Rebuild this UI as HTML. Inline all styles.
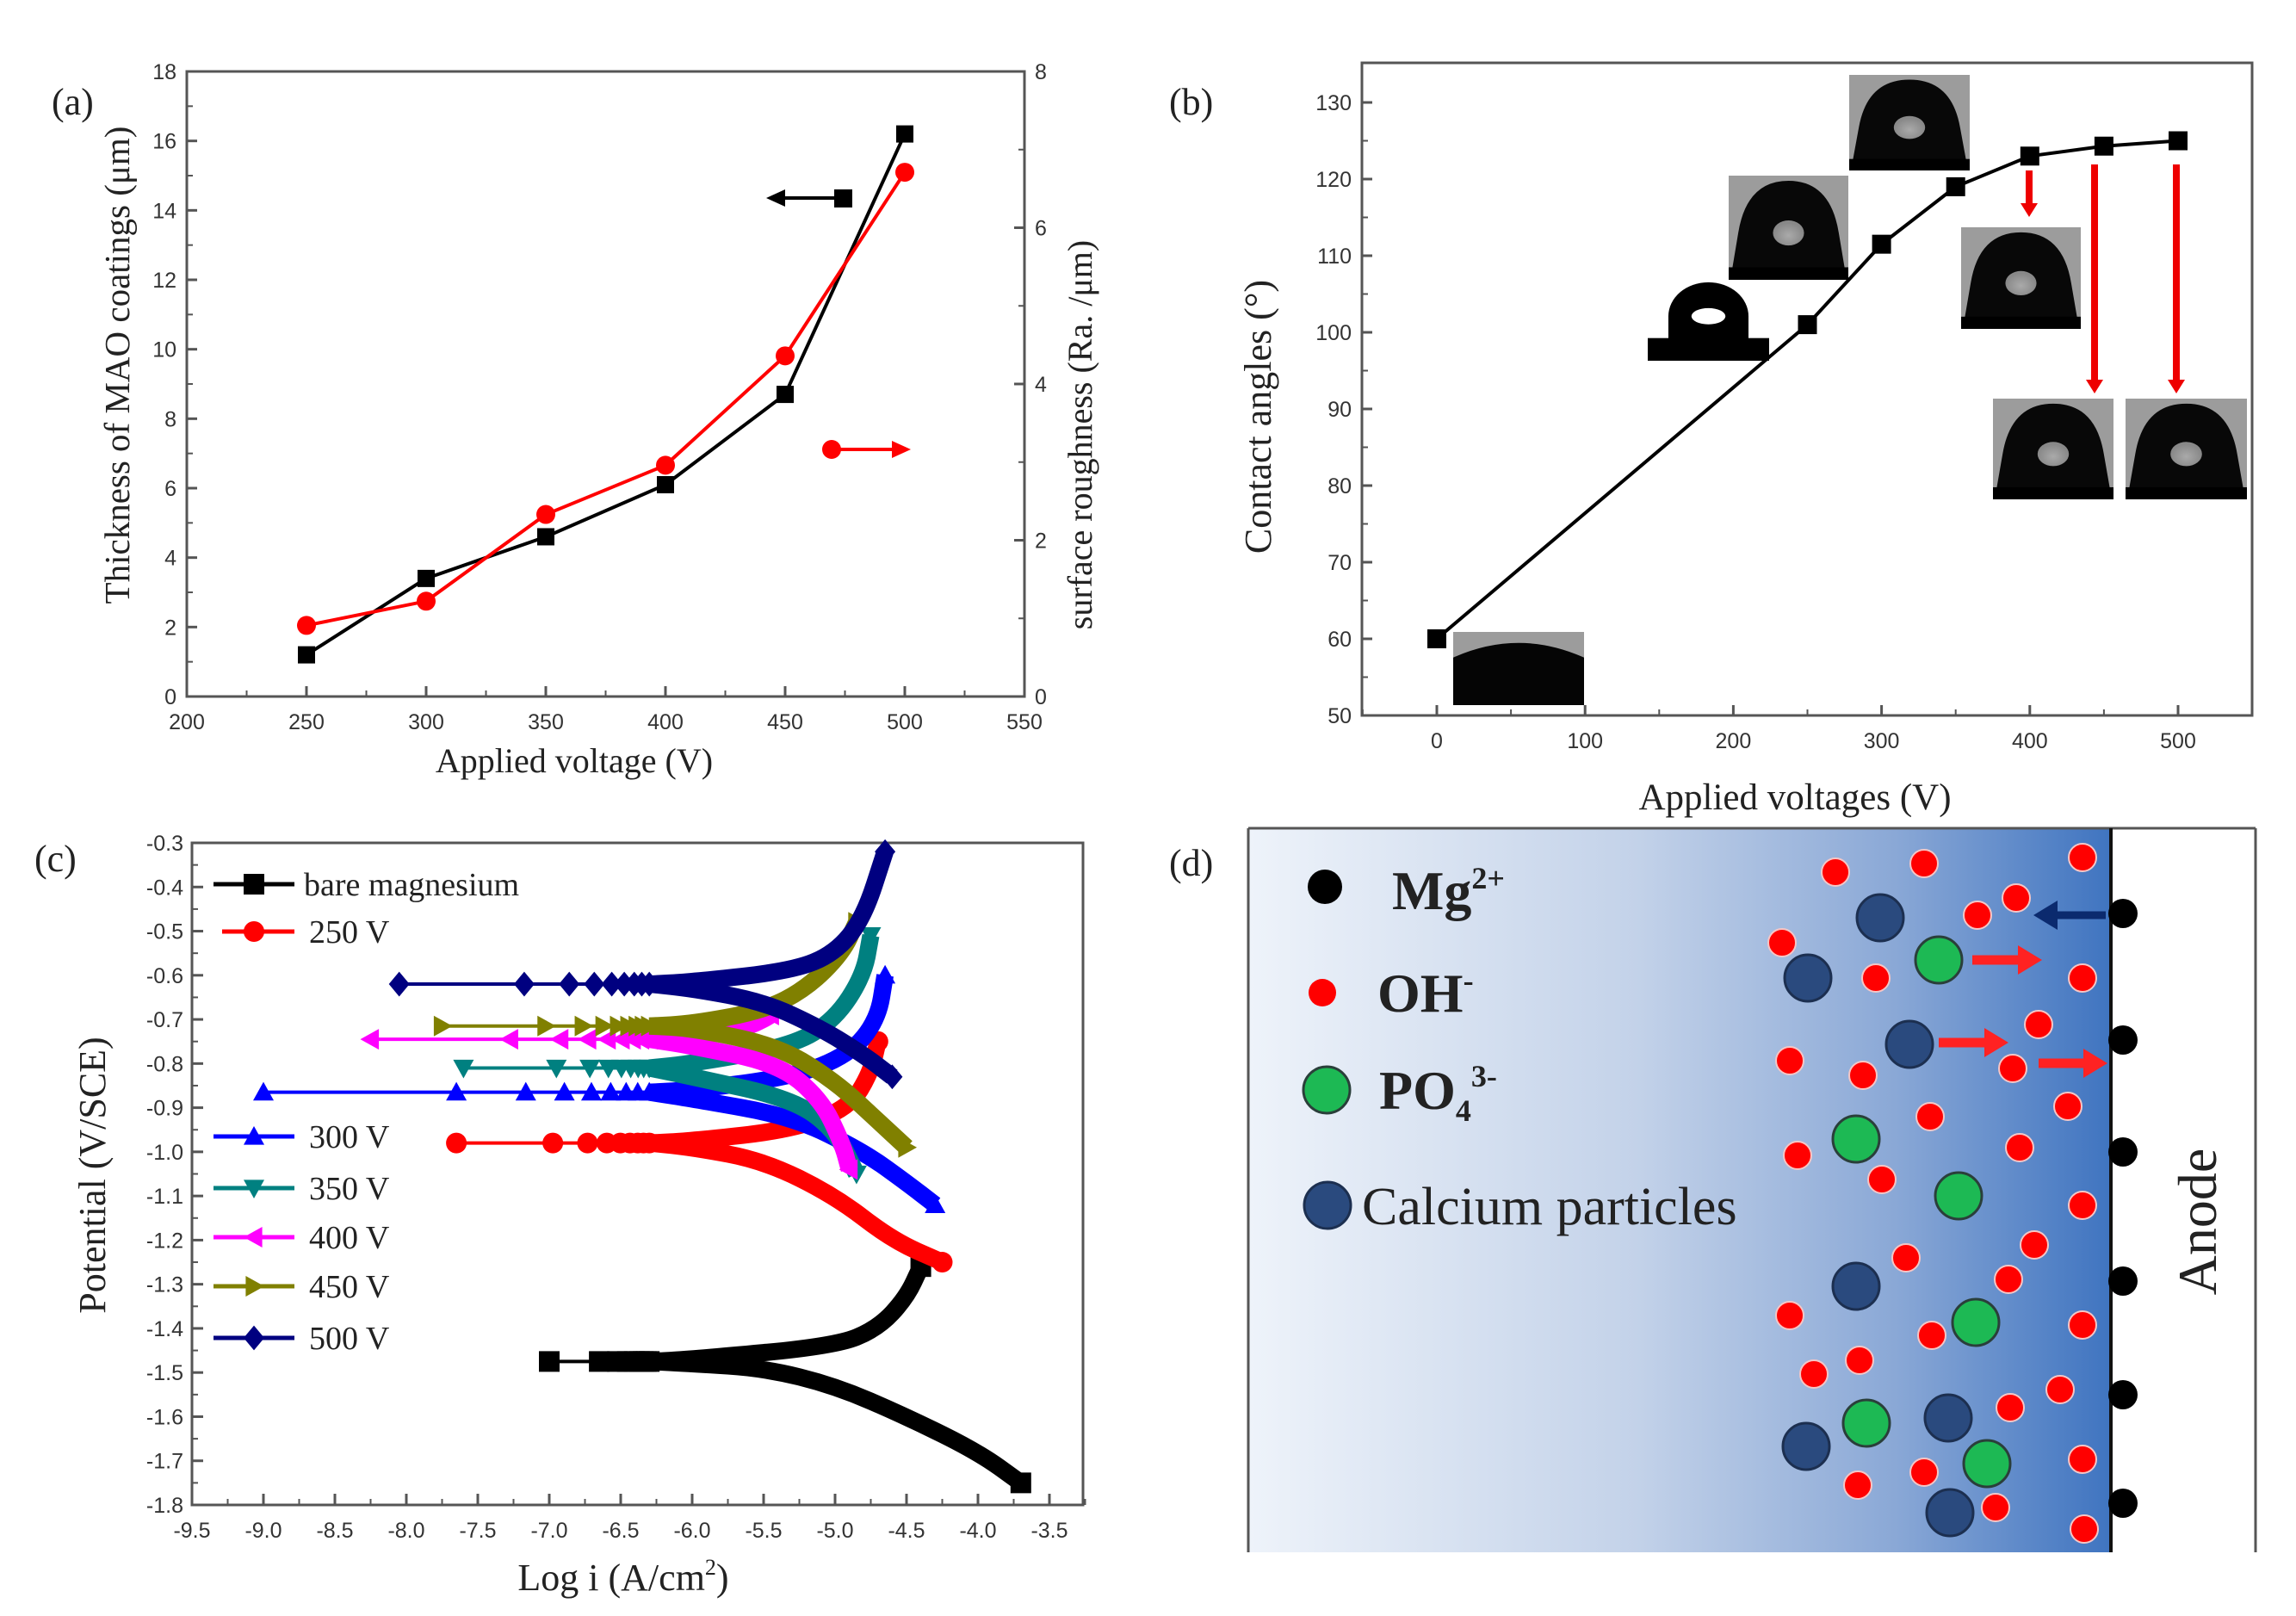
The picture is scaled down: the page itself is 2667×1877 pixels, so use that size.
<!DOCTYPE html>
<html><head><meta charset="utf-8"><style>
html,body{margin:0;padding:0;background:#fff}
svg{display:block}
.tk{font-family:"Liberation Sans",Arial,sans-serif;font-size:25px;fill:#333}
.tt{font-family:"Liberation Serif","Times New Roman",serif;fill:#222}
</style></head><body>
<svg id="fig" width="2667" height="1877" viewBox="0 0 2667 1877" xmlns="http://www.w3.org/2000/svg">
<defs>
<linearGradient id="sol" x1="0" y1="0" x2="1" y2="0">
<stop offset="0" stop-color="#eef3fa"/><stop offset="0.45" stop-color="#c3d2e9"/><stop offset="0.75" stop-color="#8aa8d6"/><stop offset="1" stop-color="#3f74c0"/>
</linearGradient>
<radialGradient id="drop" cx="0.5" cy="0.6" r="0.5"><stop offset="0" stop-color="#aaa"/><stop offset="1" stop-color="#888"/></radialGradient>
</defs>
<g id="pa"></g>
<g id="pb"></g>
<g id="pc"></g>
<g id="pd"></g>
</svg>
<script>
// ---- Panel (a) data ----
const aVoltage=[250,300,350,400,450,500];
const aThickness=[1.2,3.4,4.6,6.1,8.7,16.2];
const aRoughness=[0.91,1.22,2.33,2.96,4.36,6.71];
const aXTicks=[200,250,300,350,400,450,500,550];
const aYTicks=[0,2,4,6,8,10,12,14,16,18];
const aY2Ticks=[0,2,4,6,8];
// ---- Panel (b) data ----
const bVoltage=[0,250,300,350,400,450,500];
const bAngle=[60,101,111.5,119,123,124.3,125];
const bXTicks=[0,100,200,300,400,500];
const bYTicks=[50,60,70,80,90,100,110,120,130];
// ---- Panel (c) data ----
const cNames=["bare magnesium","250 V","300 V","350 V","400 V","450 V","500 V"];
const cEcorr=[-1.475,-0.98,-0.865,-0.81,-0.745,-0.715,-0.62];
const cStart=[-7.0,-7.65,-9.0,-7.6,-8.25,-7.75,-8.05];
const cAnodicX=[[-6,-5,-4.7,-4.5,-4.4],[-6,-5.3,-4.9,-4.75,-4.7],[-6,-5.3,-4.9,-4.7,-4.65],[-6,-5.3,-5.0,-4.8,-4.75],[-6,-5.8,-5.6,-5.5,-5.45],[-6,-5.5,-5.2,-4.95,-4.85],[-6,-5.3,-5.0,-4.8,-4.65]];
const cAnodicE=[[-1.47,-1.44,-1.40,-1.33,-1.26],[-0.975,-0.95,-0.90,-0.82,-0.75],[-0.86,-0.83,-0.78,-0.70,-0.60],[-0.80,-0.76,-0.70,-0.60,-0.51],[-0.74,-0.73,-0.715,-0.70,-0.69],[-0.71,-0.68,-0.63,-0.55,-0.48],[-0.615,-0.59,-0.55,-0.47,-0.32]];
const cCathX=[[-6,-5.5,-5,-4.5,-4,-3.7],[-6,-5.5,-5,-4.6,-4.25],[-6,-5.3,-4.8,-4.5,-4.3],[-6,-5.3,-5.0,-4.85],[-6,-5.4,-5.1,-4.95,-4.9],[-6,-5.4,-5.0,-4.7,-4.5],[-6,-5.5,-5.1,-4.8,-4.6]];
const cCathE=[[-1.48,-1.49,-1.53,-1.60,-1.68,-1.75],[-0.99,-1.02,-1.10,-1.20,-1.25],[-0.88,-0.92,-1.00,-1.07,-1.12],[-0.83,-0.88,-0.95,-1.05],[-0.76,-0.80,-0.88,-0.98,-1.04],[-0.72,-0.76,-0.84,-0.93,-0.99],[-0.63,-0.66,-0.72,-0.78,-0.83]];
const cXTicks=[-9.5,-9.0,-8.5,-8.0,-7.5,-7.0,-6.5,-6.0,-5.5,-5.0,-4.5,-4.0,-3.5];
const cYTicks=[-0.3,-0.4,-0.5,-0.6,-0.7,-0.8,-0.9,-1.0,-1.1,-1.2,-1.3,-1.4,-1.5,-1.6,-1.7,-1.8];

const NS="http://www.w3.org/2000/svg";
function el(tag,attrs,parent,txt){const e=document.createElementNS(NS,tag);for(const k in attrs)e.setAttribute(k,attrs[k]);if(txt!==undefined)e.textContent=txt;parent.appendChild(e);return e;}
function lin(d0,d1,p0,p1){return v=>p0+(v-d0)*(p1-p0)/(d1-d0);}

// ===== Panel A =====
(function(){
const g=document.getElementById('pa');
const L=217,R=1190,T=83,B=809;
const X=lin(200,550,L,R),Y=lin(0,18,B,T),Y2=lin(0,8,B,T);
const box=el('rect',{x:L,y:T,width:R-L,height:B-T,fill:'none',stroke:'#555','stroke-width':3},g);

aXTicks.forEach((v,i)=>{el('line',{x1:X(v),y1:B,x2:X(v),y2:B-12,stroke:'#555','stroke-width':3},g);
 if(i<aXTicks.length-1)el('line',{x1:X(v+25),y1:B,x2:X(v+25),y2:B-7,stroke:'#555','stroke-width':2},g);
 const t=el('text',{x:X(v),y:B+38,'text-anchor':'middle',class:'tk'},g,String(v));});
aYTicks.forEach((v,i)=>{el('line',{x1:L,y1:Y(v),x2:L+12,y2:Y(v),stroke:'#555','stroke-width':3},g);
 if(i<aYTicks.length-1)el('line',{x1:L,y1:Y(v+1),x2:L+7,y2:Y(v+1),stroke:'#555','stroke-width':2},g);
 const t=el('text',{x:L-12,y:Y(v)+9,'text-anchor':'end',class:'tk'},g,String(v));});
aY2Ticks.forEach((v,i)=>{el('line',{x1:R,y1:Y2(v),x2:R-12,y2:Y2(v),stroke:'#555','stroke-width':3},g);
 if(i<aY2Ticks.length-1)el('line',{x1:R,y1:Y2(v+1),x2:R-7,y2:Y2(v+1),stroke:'#555','stroke-width':2},g);
 const t=el('text',{x:R+12,y:Y2(v)+9,'text-anchor':'start',class:'tk'},g,String(v));});
const l1=el('polyline',{points:aVoltage.map((v,i)=>X(v)+','+Y(aThickness[i])).join(' '),fill:'none',stroke:'#000','stroke-width':4},g);

const l2=el('polyline',{points:aVoltage.map((v,i)=>X(v)+','+Y2(aRoughness[i])).join(' '),fill:'none',stroke:'#f00','stroke-width':4},g);

aVoltage.forEach((v,i)=>{const m=el('rect',{x:X(v)-10,y:Y(aThickness[i])-10,width:20,height:20,fill:'#000'},g);
 const c=el('circle',{cx:X(v),cy:Y2(aRoughness[i]),r:11,fill:'#f00'},g);});
el('line',{x1:900,y1:230,x2:975,y2:230,stroke:'#000','stroke-width':4},g);
el('polygon',{points:'890,230 912,220 912,240',fill:'#000'},g);
el('rect',{x:969,y:220,width:21,height:21,fill:'#000'},g);
el('circle',{cx:966,cy:522,r:11,fill:'#f00'},g);
el('line',{x1:966,y1:522,x2:1045,y2:522,stroke:'#f00','stroke-width':4},g);
el('polygon',{points:'1058,522 1036,512 1036,532',fill:'#f00'},g);
const lab=el('text',{x:60,y:133,class:'tt','font-size':44},g,'(a)');
const xt=el('text',{x:667,y:897,'text-anchor':'middle',class:'tt','font-size':40},g,'Applied voltage (V)');
const yt=el('text',{x:0,y:0,'text-anchor':'middle',class:'tt','font-size':41,transform:'translate(150,424) rotate(-90)'},g,'Thickness of MAO coatings (μm)');
const y2t=el('text',{x:0,y:0,'text-anchor':'middle',class:'tt','font-size':40,transform:'translate(1268,505) rotate(-90)'},g,'surface roughness (Ra. /μm)');
})();

// ===== Panel B =====
(function(){
const g=document.getElementById('pb');
const L=1582,R=2616,T=73,B=831;
const X=lin(0,500,1669,2530),Y=lin(50,130,B,119);
const box=el('rect',{x:L,y:T,width:R-L,height:B-T,fill:'none',stroke:'#555','stroke-width':3},g);

bXTicks.forEach(v=>{el('line',{x1:X(v),y1:B,x2:X(v),y2:B-12,stroke:'#555','stroke-width':3},g);
 el('line',{x1:X(v+50),y1:B,x2:X(v+50),y2:B-7,stroke:'#555','stroke-width':2},g);
 const t=el('text',{x:X(v),y:B+38,'text-anchor':'middle',class:'tk'},g,String(v));});
el('line',{x1:X(-50),y1:B,x2:X(-50),y2:B-7,stroke:'#555','stroke-width':2},g);
bYTicks.forEach(v=>{el('line',{x1:L,y1:Y(v),x2:L+12,y2:Y(v),stroke:'#555','stroke-width':3},g);
 if(v<130)el('line',{x1:L,y1:Y(v+5),x2:L+7,y2:Y(v+5),stroke:'#555','stroke-width':2},g);
 const t=el('text',{x:L-12,y:Y(v)+9,'text-anchor':'end',class:'tk'},g,String(v));});
const imgs=[[1688,734,152,85,'flat'],[1914,325,141,94,'cap'],[2008,204,139,121,'d'],[2148,87,140,111,'d'],[2278,264,139,118,'d'],[2315,463,140,117,'d'],[2469,463,141,117,'d']];
imgs.forEach((m,i)=>{const gg=el('g',{},g);
 const [x,y,w,h,k]=m;
 if(k==='cap'){el('rect',{x:x,y:y+h*0.72,width:w,height:h*0.28,fill:'#000'},gg);
   el('path',{d:`M${x+w*0.17},${y+h*0.75} L${x+w*0.17},${y+h*0.45} A${w*0.33},${h*0.42} 0 0 1 ${x+w*0.83},${y+h*0.45} L${x+w*0.83},${y+h*0.75}Z`,fill:'#000'},gg);
   el('ellipse',{cx:x+w*0.5,cy:y+h*0.45,rx:w*0.14,ry:h*0.1,fill:'#fff'},gg);return;}
 el('rect',{x:x,y:y,width:w,height:h,fill:'#9c9c9c'},gg);
 if(k==='flat'){el('path',{d:`M${x},${y+h} L${x},${y+h*0.35} Q${x+w*0.5},${y-h*0.05} ${x+w},${y+h*0.35} L${x+w},${y+h}Z`,fill:'#050505'},gg);return;}
 el('path',{d:`M${x+2},${y+h} L${x+w*0.08},${y+h*0.55} Q${x+w*0.15},${y+h*0.05} ${x+w*0.5},${y+h*0.05} Q${x+w*0.85},${y+h*0.05} ${x+w*0.92},${y+h*0.55} L${x+w-2},${y+h}Z`,fill:'#080808'},gg);
 el('rect',{x:x,y:y+h*0.88,width:w,height:h*0.12,fill:'#000'},gg);
 el('ellipse',{cx:x+w*0.5,cy:y+h*0.55,rx:w*0.13,ry:h*0.12,fill:'url(#drop)'},gg);});
const ln=el('polyline',{points:bVoltage.map((v,i)=>X(v)+','+Y(bAngle[i])).join(' '),fill:'none',stroke:'#000','stroke-width':4},g);

bVoltage.forEach((v,i)=>{const m=el('rect',{x:X(v)-11,y:Y(bAngle[i])-11,width:22,height:22,fill:'#000'},g);});
[[2357,198,252],[2433,191,457],[2528,191,457]].forEach(a=>{const gg=el('g',{},g);
 el('line',{x1:a[0],y1:a[1],x2:a[0],y2:a[2]-12,stroke:'#e00','stroke-width':8},gg);
 el('polygon',{points:`${a[0]-10},${a[2]-16} ${a[0]+10},${a[2]-16} ${a[0]},${a[2]}`,fill:'#e00'},gg);});
const lab=el('text',{x:1358,y:133,class:'tt','font-size':44},g,'(b)');
const xt=el('text',{x:2085,y:940,'text-anchor':'middle',class:'tt','font-size':43},g,'Applied voltages (V)');
const yt=el('text',{x:0,y:0,'text-anchor':'middle',class:'tt','font-size':44,transform:'translate(1476,484) rotate(-90)'},g,'Contact angles (°)');
})();

// ===== Panel C =====
(function(){
const g=document.getElementById('pc');
const L=223,R=1258,T=979,B=1748;
const X=lin(-9.5,-6.5,223,721),Y=lin(-0.3,-1.8,T,B);
const colors=['#000','#f00','#00f','#008080','#f0f','#808000','#000080'];
const shapes=['sq','ci','tu','td','tl','tr','di'];
function marker(p,s,x,y,c,r){
 let m;
 if(s==='sq')m=el('rect',{x:x-r,y:y-r,width:2*r,height:2*r,fill:c},p);
 else if(s==='ci')m=el('circle',{cx:x,cy:y,r:r,fill:c},p);
 else{let pts;
  if(s==='tu')pts=[[x,y-r],[x+r,y+r*0.8],[x-r,y+r*0.8]];
  if(s==='td')pts=[[x,y+r],[x+r,y-r*0.8],[x-r,y-r*0.8]];
  if(s==='tl')pts=[[x-r,y],[x+r*0.8,y-r],[x+r*0.8,y+r]];
  if(s==='tr')pts=[[x+r,y],[x-r*0.8,y-r],[x-r*0.8,y+r]];
  if(s==='di')pts=[[x,y-r*1.2],[x+r,y],[x,y+r*1.2],[x-r,y]];
  m=el('polygon',{points:pts.map(q=>q.join(',')).join(' '),fill:c},p);}
 
 
}
const box=el('rect',{x:L,y:T,width:R-L,height:B-T,fill:'none',stroke:'#555','stroke-width':3},g);

cXTicks.forEach(v=>{el('line',{x1:X(v),y1:B,x2:X(v),y2:B-13,stroke:'#555','stroke-width':3},g);
 el('line',{x1:X(v+0.25),y1:B,x2:X(v+0.25),y2:B-7,stroke:'#555','stroke-width':2},g);
 const t=el('text',{x:X(v),y:B+38,'text-anchor':'middle',class:'tk'},g,v.toFixed(1));});
cYTicks.forEach(v=>{el('line',{x1:L,y1:Y(v),x2:L+13,y2:Y(v),stroke:'#555','stroke-width':3},g);
 if(v>-1.75)el('line',{x1:L,y1:Y(v-0.05),x2:L+7,y2:Y(v-0.05),stroke:'#555','stroke-width':2},g);
 const t=el('text',{x:L-10,y:Y(v)+9,'text-anchor':'end',class:'tk'},g,v.toFixed(1));});
cNames.forEach((nm,i)=>{
 const gg=el('g',{},g);
 
 
 const c=colors[i],E=cEcorr[i],s0=cStart[i];
 el('line',{x1:X(s0),y1:Y(E),x2:X(-6.3),y2:Y(E),stroke:c,'stroke-width':4},gg);
 const an=[[-6.3,E]].concat(cAnodicX[i].map((x,j)=>[x,cAnodicE[i][j]]));
 const ca=[[-6.3,E]].concat(cCathX[i].map((x,j)=>[x,cCathE[i][j]]));
 [an,ca].forEach(pts=>{
  let d='M'+X(pts[0][0])+','+Y(pts[0][1]);
  for(let k=1;k<pts.length;k++){const p0=pts[k-1],p1=pts[k];const mx=(X(p0[0])+X(p1[0]))/2;
   d+=' Q'+X(p0[0])+','+Y(p0[1])+' '+mx+','+(Y(p0[1])+Y(p1[1]))/2;}
  const last=pts[pts.length-1];d+=' L'+X(last[0])+','+Y(last[1]);
  el('path',{d:d,fill:'none',stroke:c,'stroke-width':20,'stroke-linejoin':'round'},gg);
  marker(gg,shapes[i],X(last[0]),Y(last[1]),c,12);});
 const span=-6.3-s0;[0,0.5,0.68,0.78,0.85,0.9,0.94,0.97,1].forEach(f=>marker(gg,shapes[i],X(s0+span*f),Y(E),c,12));
});
const legY=[1027,1082,1320,1380,1437,1494,1554];
cNames.forEach((nm,i)=>{const gg=el('g',{},g);
 el('line',{x1:i===1?258:248,y1:legY[i],x2:342,y2:legY[i],stroke:colors[i],'stroke-width':5},gg);
 marker(gg,shapes[i],295,legY[i],colors[i],12);
 el('text',{x:i===0?353:359,y:legY[i]+13,class:'tt','font-size':38},gg,nm);});
const lab=el('text',{x:40,y:1012,class:'tt','font-size':44},g,'(c)');
const xt=el('text',{x:724,y:1847,'text-anchor':'middle',class:'tt','font-size':44},g);
xt.innerHTML='Log i (A/cm<tspan dy="-18" font-size="26">2</tspan><tspan dy="18">)</tspan>';
const yt=el('text',{x:0,y:0,'text-anchor':'middle',class:'tt','font-size':44,transform:'translate(122,1365) rotate(-90)'},g,'Potential (V/SCE)');
})();

// ===== Panel D =====
(function(){
const g=document.getElementById('pd');
const bg=el('rect',{x:1450,y:962,width:1002,height:841,fill:'url(#sol)'},g);
el('line',{x1:1450,y1:962,x2:2620,y2:962,stroke:'#555','stroke-width':3},g);
el('line',{x1:1450,y1:962,x2:1450,y2:1803,stroke:'#555','stroke-width':3},g);
el('line',{x1:2620,y1:962,x2:2620,y2:1803,stroke:'#555','stroke-width':3},g);
const an=el('line',{x1:2452,y1:962,x2:2452,y2:1803,stroke:'#111','stroke-width':4},g);
const reds=[[2132,1013],[2235,1003],[2419,996],[2342,1043],[2297,1063],[2070,1095],[2179,1136],[2419,1136],[2368,1190],[2079,1232],[2164,1249],[2338,1241],[2402,1285],[2242,1297],[2088,1342],[2186,1370],[2346,1333],[2419,1400],[2214,1461],[2363,1446],[2333,1486],[2079,1528],[2244,1551],[2419,1539],[2107,1596],[2160,1580],[2393,1614],[2335,1635],[2235,1710],[2158,1725],[2419,1695],[2318,1751],[2421,1776]];
reds.forEach(p=>{const c=el('circle',{cx:p[0],cy:p[1],r:16,fill:'#f00',stroke:'#f5c6c6','stroke-width':2},g);});
[[2252,1115],[2156,1323],[2275,1389],[2295,1536],[2168,1653],[2308,1700]].forEach(p=>{const c=el('circle',{cx:p[0],cy:p[1],r:27,fill:'#1db954',stroke:'#2a3f3a','stroke-width':3},g);});
[[2184,1066],[2100,1136],[2218,1213],[2156,1494],[2263,1647],[2098,1680],[2265,1757]].forEach(p=>{const c=el('circle',{cx:p[0],cy:p[1],r:27,fill:'#2a4a7e',stroke:'#1c2f50','stroke-width':3},g);});
[1061,1208,1338,1488,1620,1746].forEach(y=>{const c=el('circle',{cx:2466,cy:y,r:17,fill:'#000'},g);});
const ba=el('g',{},g);
el('line',{x1:2446,y1:1063,x2:2385,y2:1063,stroke:'#0b2a6e','stroke-width':9},ba);
el('polygon',{points:'2362,1063 2390,1046 2390,1080',fill:'#0b2a6e'},ba);
[[2291,1115,2372],[2252,1211,2333],[2368,1235,2448]].forEach(a=>{const gg=el('g',{},g);
 el('line',{x1:a[0],y1:a[1],x2:a[2]-22,y2:a[1],stroke:'#f22','stroke-width':11},gg);
 el('polygon',{points:`${a[2]},${a[1]} ${a[2]-28},${a[1]-17} ${a[2]-28},${a[1]+17}`,fill:'#f22'},gg);});
const lg=el('g',{},g);
el('circle',{cx:1539,cy:1030,r:20,fill:'#000'},lg);
el('circle',{cx:1536,cy:1153,r:16,fill:'#f00'},lg);
el('circle',{cx:1541,cy:1266,r:27,fill:'#1db954',stroke:'#2a3f3a','stroke-width':3},lg);
el('circle',{cx:1542,cy:1400,r:27,fill:'#2a4a7e',stroke:'#1c2f50','stroke-width':3},lg);
const t1=el('text',{x:1617,y:1056,class:'tt','font-size':64,'font-weight':'bold',fill:'#111'},lg);t1.innerHTML='Mg<tspan dy="-24" font-size="36">2+</tspan>';
const t2=el('text',{x:1600,y:1175,class:'tt','font-size':64,'font-weight':'bold',fill:'#111'},lg);t2.innerHTML='OH<tspan dy="-24" font-size="36">-</tspan>';
const t3=el('text',{x:1602,y:1288,class:'tt','font-size':64,'font-weight':'bold',fill:'#111'},lg);t3.innerHTML='PO<tspan dy="14" font-size="36">4</tspan><tspan dy="-40" font-size="36">3-</tspan>';
el('text',{x:1582,y:1422,class:'tt','font-size':62,fill:'#111'},lg,'Calcium particles');
const at=el('text',{x:0,y:0,'text-anchor':'middle',class:'tt','font-size':64,fill:'#111',transform:'translate(2574,1419) rotate(-90)'},g,'Anode');
const lab=el('text',{x:1358,y:1017,class:'tt','font-size':44},g,'(d)');
})();
</script>
</body></html>
